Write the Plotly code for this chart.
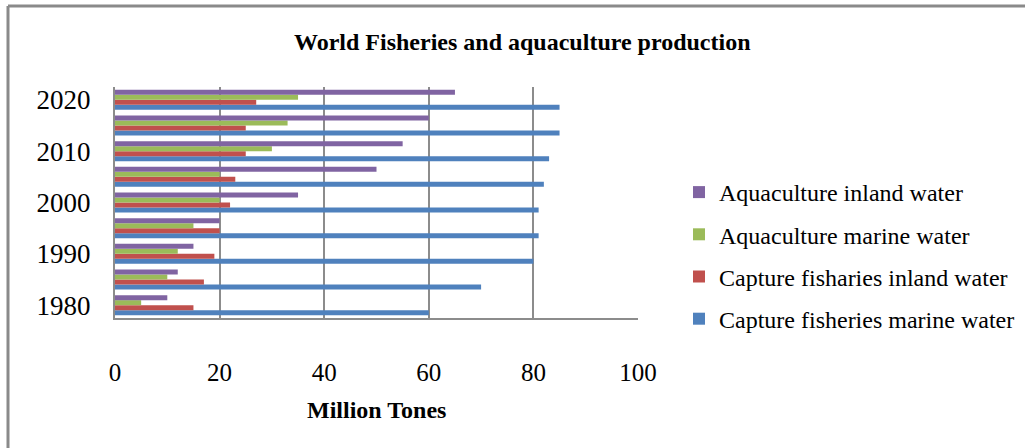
import plotly.graph_objects as go

years = [1980, 1985, 1990, 1995, 2000, 2005, 2010, 2015, 2020]
capture_marine = [60, 70, 80, 81, 81, 82, 83, 85, 85]
capture_inland = [15, 17, 19, 20, 22, 23, 25, 25, 27]
aqua_marine = [5, 10, 12, 15, 20, 20, 30, 33, 35]
aqua_inland = [10, 12, 15, 20, 35, 50, 55, 60, 65]

series = [
    ("Capture fisheries marine water", capture_marine, "#4F81BD"),
    ("Capture fisharies inland water", capture_inland, "#C0504D"),
    ("Aquaculture marine water", aqua_marine, "#9BBB59"),
    ("Aquaculture inland water", aqua_inland, "#8064A2"),
]
x_ticks = [0, 20, 40, 60, 80, 100]
y_ticks = [1980, 1990, 2000, 2010, 2020]

FONT = "Liberation Serif"
W, H = 1025, 448
L, R, T, B = 115, 638, 87, 318

fig = go.Figure()
n = len(series)
for i, (name, vals, col) in enumerate(series):
    fig.add_trace(go.Bar(
        y=years, x=vals, name=name, orientation="h",
        marker=dict(color=col, line=dict(width=0)),
        legendgroup=str(i), legendrank=n - i,
    ))

def px(xp):
    return (xp - L) / (R - L)

def py(yp):
    return (B - yp) / (B - T)

fig.update_layout(
    width=W, height=H,
    margin=dict(l=L, r=W - R, t=T, b=H - B, pad=0, autoexpand=False),
    paper_bgcolor="white", plot_bgcolor="white",
    barmode="group", bargap=0.22, bargroupgap=0,
    font=dict(family=FONT, color="black"),
    showlegend=True,
    legend=dict(
        x=px(679), y=py(170), xanchor="left", yanchor="top",
        traceorder="grouped", font=dict(family=FONT, size=24),
        tracegroupgap=8, itemwidth=30, bgcolor="rgba(0,0,0,0)",
    ),
    xaxis=dict(
        range=[0, 100], tickvals=x_ticks, showgrid=True, gridcolor="#8c8c8c", gridwidth=2,
        showline=True, linecolor="#8c8c8c", linewidth=2, zeroline=False,
        ticks="outside", ticklen=31, tickcolor="rgba(0,0,0,0)",
        tickfont=dict(family=FONT, size=25),
        fixedrange=True,
    ),
    yaxis=dict(
        range=[1977.5, 2022.5], tickvals=y_ticks, showgrid=False,
        showline=True, linecolor="#8c8c8c", linewidth=2, zeroline=False,
        ticks="outside", ticklen=17, tickcolor="rgba(0,0,0,0)",
        tickfont=dict(family=FONT, size=27),
        fixedrange=True,
    ),
    annotations=[
        dict(text="<b>World Fisheries and aquaculture production</b>", xref="paper", yref="paper",
             x=px(522), y=py(42), xanchor="center", yanchor="middle", showarrow=False,
             font=dict(family=FONT, size=24)),
        dict(text="<b>Million Tones</b>", xref="paper", yref="paper",
             x=px(376), y=py(410), xanchor="center", yanchor="middle", showarrow=False,
             font=dict(family=FONT, size=24)),
    ],
    shapes=[
        dict(type="line", xref="paper", yref="paper", x0=px(8), x1=px(1030), y0=py(6), y1=py(6),
             line=dict(color="#8a8a8a", width=3)),
        dict(type="line", xref="paper", yref="paper", x0=px(8), x1=px(8), y0=py(6), y1=py(460),
             line=dict(color="#8a8a8a", width=3)),
    ],
)

fig.write_html("out.html")
